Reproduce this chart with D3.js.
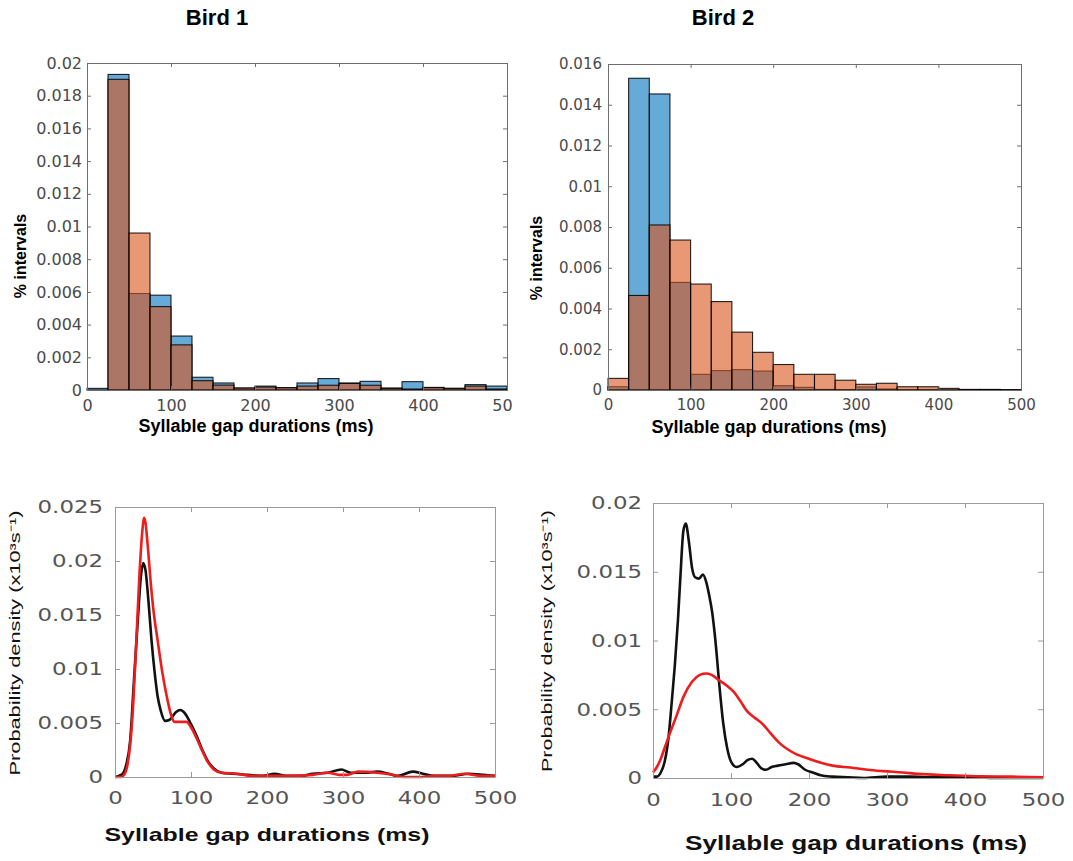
<!DOCTYPE html>
<html><head><meta charset="utf-8">
<script src="https://cdn.jsdelivr.net/npm/d3@7"></script>
<style>body{margin:0;background:#fff} svg{display:block}</style>
</head><body><svg id="c" width="1073" height="861"></svg>
<script>
// ---------- DATA ----------
const binEdges = [0,25,50,75,100,125,150,175,200,225,250,275,300,325,350,375,400,425,450,475,500];
const bird1Blue   = [0.0001,0.0193,0.0059,0.0058,0.0033,0.00078,0.00043,0.00012,0.00024,0.00014,0.00043,0.0007,0.00043,0.00053,0.00012,0.00051,0.00016,0.0001,0.00033,0.00024];
const bird1Orange = [0,0.0190,0.0096,0.0051,0.00276,0.00057,0.0003,0.00012,0.00018,0.00014,0.00024,0.00029,0.0004,0.00029,0.0001,0.00006,0.00014,0.0001,0.00024,0.00006];
const bird2Blue   = [0.00016,0.0153,0.01453,0.00528,0.00077,0.00095,0.001,0.00093,0.00021,0.00013,0.00003,0.00002,0.00015,0.00005,0.00002,0.00002,0.00001,0.00001,0.00003,0.00001];
const bird2Orange = [0.00057,0.00464,0.0081,0.00736,0.0052,0.00434,0.00284,0.00185,0.00125,0.00077,0.00077,0.00048,0.00028,0.00033,0.00016,0.00016,0.00008,0.00003,0.00002,0.00002];

const bird1Black = [[0,0],[5,0.0001],[10,0.0003],[15,0.0012],[20,0.0034],[25,0.009],[30,0.0145],[34,0.0185],[37,0.0198],[40,0.0192],[44,0.0163],[48,0.0127],[52,0.0098],[56,0.0075],[60,0.0062],[66,0.0052],[72,0.0053],[80,0.006],[86,0.0062],[92,0.0059],[100,0.0049],[108,0.0037],[115,0.0025],[122,0.0015],[130,0.0008],[140,0.0004],[155,0.0003],[175,0.0002],[195,0.0001],[210,0.0003],[225,0.0001],[245,0.0001],[260,0.0003],[280,0.0004],[298,0.0007],[310,0.0004],[330,0.0004],[345,0.0005],[360,0.0003],[372,0.0001],[392,0.0005],[405,0.0003],[420,0.0001],[445,0.0001],[465,0.0003],[485,0.0002],[500,0.0001]];
const bird1Red = [[0,0],[8,0],[12,0.0002],[16,0.001],[20,0.003],[24,0.0068],[28,0.0125],[32,0.0185],[36,0.0228],[38,0.024],[40,0.0236],[43,0.0215],[47,0.018],[51,0.0152],[56,0.0127],[62,0.0098],[68,0.0075],[74,0.0057],[78,0.0051],[86,0.0051],[94,0.0051],[100,0.0046],[108,0.0035],[115,0.0024],[122,0.0014],[130,0.0007],[140,0.0004],[160,0.0003],[180,0.0001],[200,0.0001],[230,0.0001],[260,0.0002],[280,0.0004],[295,0.0002],[305,0.0002],[320,0.0005],[345,0.0004],[365,0.0002],[380,0],[400,0],[420,0.0001],[440,0.0001],[460,0.0003],[480,0.0001],[500,0.0001]];
const bird2Black = [[0,0.0001],[5,0.0001],[10,0.0004],[15,0.0012],[20,0.003],[24,0.0055],[28,0.0082],[32,0.0115],[35,0.0145],[39,0.018],[42,0.0185],[46,0.0172],[50,0.0153],[54,0.0146],[59,0.0145],[64,0.0148],[68,0.0143],[72,0.0133],[76,0.012],[80,0.01],[85,0.0068],[90,0.004],[95,0.0022],[100,0.0012],[107,0.0008],[115,0.001],[121,0.0013],[127,0.0014],[133,0.0011],[139,0.0007],[145,0.0006],[152,0.0008],[160,0.0009],[170,0.001],[180,0.0011],[186,0.001],[195,0.0006],[205,0.0004],[215,0.0002],[230,0.0001],[250,0.00005],[270,0],[300,0.0001],[330,0.0001],[360,0.00005],[400,0.00005],[450,0],[500,0]];
const bird2Red = [[0,0.0004],[5,0.0008],[10,0.0014],[15,0.0022],[20,0.003],[30,0.0045],[39,0.0059],[50,0.007],[60,0.0075],[68,0.0076],[75,0.0075],[85,0.0071],[95,0.0067],[103,0.0063],[112,0.0056],[120,0.0049],[130,0.0044],[141,0.0039],[150,0.0033],[163,0.0025],[175,0.002],[185,0.0017],[200,0.0014],[210,0.0012],[230,0.0009],[253,0.00076],[275,0.0006],[295,0.0005],[320,0.0004],[340,0.0003],[380,0.0002],[420,0.00012],[460,0.0001],[500,0.00005]];

const xTicks = [0,100,200,300,400,500];
const bird1HistYTicks = [0,0.002,0.004,0.006,0.008,0.01,0.012,0.014,0.016,0.018,0.02];
const bird2HistYTicks = [0,0.002,0.004,0.006,0.008,0.01,0.012,0.014,0.016];
const bird1DensYTicks = [0,0.005,0.01,0.015,0.02,0.025];
const bird2DensYTicks = [0,0.005,0.01,0.015,0.02];
const titles = ["Bird 1","Bird 2"];
const histYLabel = "% intervals";
const densYLabel = "Probability density (x10\u00B3s\u207B\u00B9)";
const xLabel = "Syllable gap durations (ms)";

// ---------- DRAW ----------
const svg = d3.select("#c");
const fmt = d => d === 0 ? "0" : String(+d.toFixed(4));

function panel(cfg){
  const x = d3.scaleLinear().domain([0,500]).range([cfg.x0,cfg.x1]);
  const y = d3.scaleLinear().domain([0,cfg.ymax]).range([cfg.y1,cfg.y0]);
  const g = svg.append("g");
  if (cfg.clip) {
    svg.append("clipPath").attr("id",cfg.clip.id).append("rect")
      .attr("x",0).attr("y",0).attr("width",cfg.clip.w).attr("height",861);
    g.attr("clip-path",`url(#${cfg.clip.id})`);
  }
  return {x,y,g};
}

function axes(p, cfg){
  const {x,y,g} = p;
  const ax = g.append("g").attr("class","axes");
  const mk = (sel)=>{ sel.selectAll("path.domain").attr("stroke",cfg.lineColor);
                      sel.selectAll(".tick line").attr("stroke",cfg.lineColor);
                      sel.selectAll("text").attr("fill",cfg.textColor)
                        .style("font-family","DejaVu Sans, sans-serif").style("font-size",cfg.tickFont+"px"); };
  const b = ax.append("g").attr("transform",`translate(0,${cfg.y1})`)
    .call(d3.axisBottom(x).tickValues(xTicks).tickFormat(d3.format("d")).tickSizeInner(-cfg.tl).tickSizeOuter(0).tickPadding(cfg.xpad));
  mk(b);
  const t = ax.append("g").attr("transform",`translate(0,${cfg.y0})`)
    .call(d3.axisTop(x).tickValues(xTicks).tickFormat("").tickSizeInner(-cfg.tl).tickSizeOuter(0));
  mk(t);
  const l = ax.append("g").attr("transform",`translate(${cfg.x0},0)`)
    .call(d3.axisLeft(y).tickValues(cfg.yTicks).tickFormat(fmt).tickSizeInner(-cfg.tl).tickSizeOuter(0).tickPadding(cfg.ypad));
  mk(l);
  const r = ax.append("g").attr("transform",`translate(${cfg.x1},0)`)
    .call(d3.axisRight(y).tickValues(cfg.yTicks).tickFormat("").tickSizeInner(-cfg.tl).tickSizeOuter(0));
  mk(r);
  ax.selectAll("path.domain").attr("stroke-width",1);
  if (cfg.stretch) {
    ax.selectAll("text").each(function(){
      const w = this.getComputedTextLength();
      if (w>0) d3.select(this).attr("textLength", w*cfg.stretch).attr("lengthAdjust","spacingAndGlyphs");
    });
  }
}

function hist(p, blue, orange){
  const {x,y,g} = p;
  const bins = d3.range(binEdges.length-1);
  const draw = (vals, color, cls) => g.append("g").attr("class",cls).selectAll("rect")
    .data(bins.filter(i=>vals[i]>0)).join("rect")
    .attr("x", i=>x(binEdges[i])).attr("width", i=>x(binEdges[i+1])-x(binEdges[i]))
    .attr("y", i=>y(vals[i])).attr("height", i=>y(0)-y(vals[i]))
    .attr("fill",color).attr("fill-opacity",0.6)
    .attr("stroke","#000").attr("stroke-width",1.1).attr("stroke-opacity",0.85);
  draw(blue,"#0072bd","blue");
  draw(orange,"#d95319","orange");
}

function dens(p, black, red){
  const {x,y,g} = p;
  const line = d3.line().x(d=>x(d[0])).y(d=>y(Math.max(0,d[1]))).curve(d3.curveMonotoneX);
  g.append("path").datum(black).attr("d",line).attr("fill","none").attr("stroke","#111").attr("stroke-width",2.6).attr("stroke-linejoin","round");
  g.append("path").datum(red).attr("d",line).attr("fill","none").attr("stroke","#ee1c1c").attr("stroke-width",2.6).attr("stroke-linejoin","round");
}

function label(txt, x, y, opts){
  const t = svg.append("text").text(txt)
    .attr("transform", `translate(${x},${y})` + (opts.rot ? " rotate(-90)" : ""))
    .attr("text-anchor","middle")
    .style("font-family", opts.family || "Liberation Sans, Arial, sans-serif")
    .style("font-size", opts.size+"px")
    .style("font-weight", opts.bold ? "bold" : "normal")
    .attr("fill", opts.color || "#111");
  if (opts.len) t.attr("textLength",opts.len).attr("lengthAdjust","spacingAndGlyphs");
  return t;
}

// Top-left: Bird 1 histogram
const tlCfg = {x0:87,x1:507,y0:63,y1:390,ymax:0.02,yTicks:bird1HistYTicks,tl:4,xpad:10,ypad:5,tickFont:16,lineColor:"#6e6e6e",textColor:"#4a4a4a",clip:{id:"clipTL",w:512}};
const tl = panel(tlCfg); hist(tl, bird1Blue, bird1Orange); axes(tl, tlCfg);

// Top-right: Bird 2 histogram
const trCfg = {x0:608,x1:1021,y0:64,y1:390,ymax:0.016,yTicks:bird2HistYTicks,tl:4,xpad:9,ypad:6,tickFont:15,lineColor:"#6e6e6e",textColor:"#4a4a4a"};
const tr = panel(trCfg); hist(tr, bird2Blue, bird2Orange); axes(tr, trCfg);

// Bottom-left: Bird 1 density
const blCfg = {x0:115,x1:495,y0:507,y1:777,ymax:0.025,yTicks:bird1DensYTicks,tl:5,xpad:14,ypad:12,tickFont:18,lineColor:"#9a9a9a",textColor:"#555",stretch:1.27};
const bl = panel(blCfg); dens(bl, bird1Black, bird1Red); axes(bl, blCfg);

// Bottom-right: Bird 2 density
const brCfg = {x0:653,x1:1043,y0:503,y1:778,ymax:0.02,yTicks:bird2DensYTicks,tl:5,xpad:15,ypad:11,tickFont:18,lineColor:"#9a9a9a",textColor:"#555",stretch:1.27};
const br = panel(brCfg); dens(br, bird2Black, bird2Red); axes(br, brCfg);

// Titles and labels
label(titles[0], 217, 25, {size:22,bold:true,color:"#000"});
label(titles[1], 723, 25, {size:22,bold:true,color:"#000"});
label(histYLabel, 26, 256, {size:16,bold:true,rot:true,color:"#000"});
label(histYLabel, 542, 258, {size:16,bold:true,rot:true,color:"#000"});
label(xLabel, 256, 432, {size:18,bold:true,color:"#000"});
label(xLabel, 769, 433, {size:18,bold:true,color:"#000"});
label(densYLabel, 20, 643, {size:15,rot:true,len:265,color:"#111"});
label(densYLabel, 552, 641, {size:15,rot:true,len:262,color:"#111"});
label(xLabel, 267, 841, {size:19,bold:true,len:325,color:"#111"});
label(xLabel, 856, 850, {size:20,bold:true,len:342,color:"#111"});
</script></body></html>
